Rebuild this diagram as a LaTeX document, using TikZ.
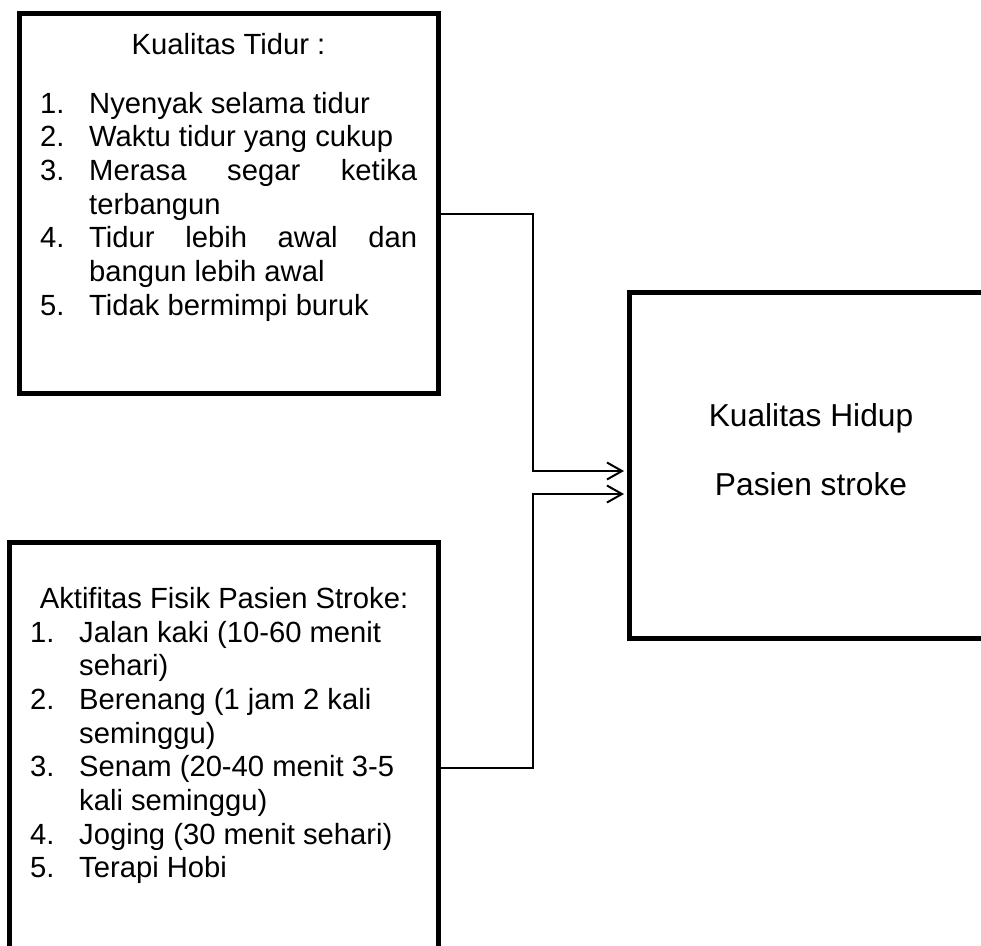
\documentclass[tikz,border=0pt]{standalone}
\usepackage{fontspec}
\setmainfont{Liberation Sans}
\usetikzlibrary{arrows.meta}
\tikzset{
  frame/.style={draw, line width=5pt, inner sep=0pt, line join=miter},
  conn/.style={line width=1.2pt},
  arr/.style={-{Straight Barb[length=15pt,width=17pt,line width=2pt]}, shorten >=2.5pt},
  txt/.style={inner sep=0pt, font=\fontsize{29.2}{33.7}\selectfont},
  bigtxt/.style={inner sep=0pt, font=\fontsize{31.7}{38}\selectfont}
}
\begin{document}
\begin{tikzpicture}[x=1pt,y=-1pt]
\useasboundingbox (0,0) rectangle (981,945);
\clip (0,0) rectangle (981,945);
\fill[white] (0,0) rectangle (981,945);

% boxes
\node[frame, minimum width=419pt, minimum height=380pt] (tidur) at (228.5,203) {};
\node[frame, minimum width=381pt, minimum height=346pt] (hidup) at (819.5,465) {};
\node[frame, minimum width=429pt, minimum height=420pt] (fisik) at (223.5,752) {};

% box 1 text
\node[txt, anchor=base] (t1title) at (228.5,54) {Kualitas Tidur :};
\node[txt, anchor=base west] (t1list) at (40,113) {\begin{tabular}[t]{@{}l@{}}
\makebox[49pt][l]{1.}Nyenyak selama tidur\\
\makebox[49pt][l]{2.}Waktu tidur yang cukup\\
\makebox[49pt][l]{3.}\makebox[328pt][s]{Merasa\hfill segar\hfill ketika}\\
\hspace*{49pt}terbangun\\
\makebox[49pt][l]{4.}\makebox[328pt][s]{Tidur\hfill lebih\hfill awal\hfill dan}\\
\hspace*{49pt}bangun lebih awal\\
\makebox[49pt][l]{5.}Tidak bermimpi buruk
\end{tabular}};

% box 3 text
\node[txt, anchor=base] (t3title) at (224,608) {Aktifitas Fisik Pasien Stroke:};
\node[txt, anchor=base west] (t3list) at (30,642) {\begin{tabular}[t]{@{}l@{}}
\makebox[49pt][l]{1.}Jalan kaki (10-60 menit\\
\hspace*{49pt}sehari)\\
\makebox[49pt][l]{2.}Berenang (1 jam 2 kali\\
\hspace*{49pt}seminggu)\\
\makebox[49pt][l]{3.}Senam (20-40 menit 3-5\\
\hspace*{49pt}kali seminggu)\\
\makebox[49pt][l]{4.}Joging (30 menit sehari)\\
\makebox[49pt][l]{5.}Terapi Hobi
\end{tabular}};

% box 2 text
\node[bigtxt, anchor=base] (h1) at (811,426) {Kualitas Hidup};
\node[bigtxt, anchor=base] (h2) at (811,495) {Pasien stroke};

% connectors
\coordinate (k1) at (533,214);
\coordinate (k2) at (533,768);
\coordinate (in1) at (629,471);
\coordinate (in2) at (629,494);
\draw[conn, arr] (tidur.east |- k1) -- (k1) |- (hidup.west |- in1);
\draw[conn, arr] (fisik.east |- k2) -- (k2) |- (hidup.west |- in2);
\end{tikzpicture}
\end{document}
